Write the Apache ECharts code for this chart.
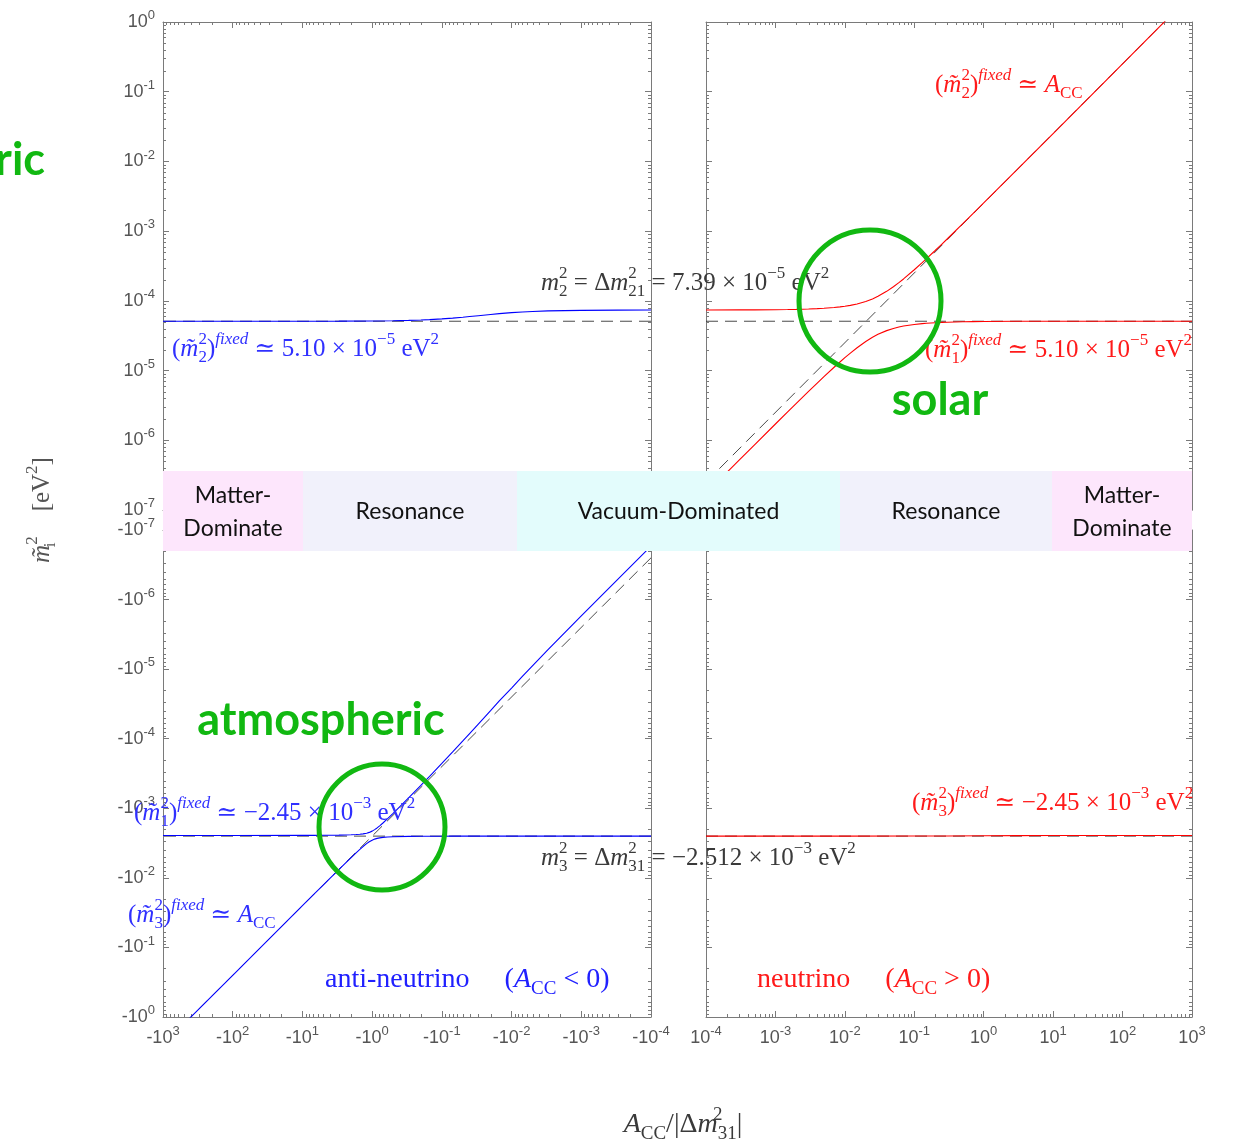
<!DOCTYPE html>
<html><head><meta charset="utf-8">
<script src="https://cdn.jsdelivr.net/npm/echarts@6/dist/echarts.min.js"></script>
<style>html,body{margin:0;padding:0;background:#fff}#c{width:1234px;height:1141px}</style>
</head><body><div id="c"></div><script>
// ---------------- data ----------------
// x = |A_CC|/|dm31^2| ; y = |m~^2| in eV^2
const xAnti  = [1e-4, 3e-4, 1e-3, 3e-3, 5e-3, 7e-3, 0.01, 0.015, 0.02, 0.03, 0.04, 0.05, 0.07, 0.1, 0.15, 0.2, 0.3, 0.5, 1, 3, 10, 100, 1000];
const m2Anti = [7.382e-5, 7.367e-5, 7.314e-5, 7.172e-5, 7.044e-5, 6.926e-5, 6.770e-5, 6.554e-5, 6.381e-5, 6.127e-5, 5.952e-5, 5.825e-5, 5.657e-5, 5.512e-5, 5.386e-5, 5.318e-5, 5.250e-5, 5.191e-5, 5.141e-5, 5.114e-5, 5.104e-5, 5.100e-5, 5.100e-5];

const xAntiNeg  = [1e-4, 3e-4, 1e-3, 3e-3, 7e-3, 0.01, 0.015, 0.02, 0.03, 0.04, 0.05, 0.07, 0.1, 0.15, 0.2, 0.3, 0.5, 0.6, 0.7, 0.78, 0.85, 0.92, 1, 1.1, 1.2, 1.35, 1.5, 1.7, 2, 2.5, 3, 4, 5, 7, 10, 100, 1000];
const m1AntiAbs = [1.703e-7, 5.11e-7, 1.714e-6, 5.24e-6, 1.266e-5, 1.871e-5, 2.867e-5, 3.95e-5, 6.15e-5, 8.435e-5, 1.077e-4, 1.550e-4, 2.270e-4, 3.479e-4, 4.689e-4, 7.100e-4, 1.1829e-3, 1.4107e-3, 1.6273e-3, 1.7891e-3, 1.9164e-3, 2.0275e-3, 2.1295e-3, 2.2205e-3, 2.2796e-3, 2.3321e-3, 2.3621e-3, 2.3857e-3, 2.4053e-3, 2.4216e-3, 2.4301e-3, 2.4387e-3, 2.443e-3, 2.4476e-3, 2.4505e-3, 2.456e-3, 2.457e-3];
const m3AntiAbs = [2.512e-3, 2.512e-3, 2.512e-3, 2.5121e-3, 2.5122e-3, 2.5124e-3, 2.5126e-3, 2.5128e-3, 2.5132e-3, 2.5137e-3, 2.5143e-3, 2.5155e-3, 2.5174e-3, 2.5209e-3, 2.5248e-3, 2.5343e-3, 2.5631e-3, 2.5863e-3, 2.6203e-3, 2.660e-3, 2.7079e-3, 2.7731e-3, 2.8717e-3, 3.0318e-3, 3.224e-3, 3.5482e-3, 3.895e-3, 4.3739e-3, 5.1078e-3, 6.3475e-3, 7.595e-3, 1.00984e-2, 1.2606e-2, 1.76256e-2, 2.5159e-2, 0.25125, 2.5122];

const xNu  = [1e-4, 3e-4, 5e-4, 1e-3, 1.5e-3, 2e-3, 3e-3, 4e-3, 5e-3, 7e-3, 8.5e-3, 0.01, 0.012, 0.015, 0.02, 0.025, 0.03, 0.04, 0.05, 0.06, 0.07, 0.1, 0.13, 0.15, 0.2, 0.25, 0.3, 0.5, 0.7, 1, 3, 10, 100, 1000];
const m2Nu = [7.398e-5, 7.414e-5, 7.430e-5, 7.470e-5, 7.511e-5, 7.553e-5, 7.641e-5, 7.732e-5, 7.828e-5, 8.032e-5, 8.197e-5, 8.372e-5, 8.622e-5, 9.03e-5, 9.80e-5, 1.0669e-4, 1.162e-4, 1.3698e-4, 1.593e-4, 1.825e-4, 2.062e-4, 2.792e-4, 3.533e-4, 4.030e-4, 5.278e-4, 6.5285e-4, 7.781e-4, 1.2798e-3, 1.782e-3, 2.535e-3, 7.559e-3, 2.5143e-2, 0.25122, 2.51202];
const m1Nu = [1.73e-7, 5.18e-7, 8.61e-7, 1.713e-6, 2.557e-6, 3.39e-6, 5.028e-6, 6.626e-6, 8.18e-6, 1.116e-5, 1.328e-5, 1.530e-5, 1.783e-5, 2.128e-5, 2.614e-5, 3.0015e-5, 3.3075e-5, 3.7405e-5, 4.02e-5, 4.21e-5, 4.347e-5, 4.59e-5, 4.71e-5, 4.77e-5, 4.855e-5, 4.905e-5, 4.94e-5, 5.005e-5, 5.03e-5, 5.05e-5, 5.09e-5, 5.10e-5, 5.10e-5, 5.10e-5];

const xNuNeg  = [1e-4, 0.01, 0.1, 0.3, 1, 3, 10, 100, 1000];
const m3NuAbs = [2.512e-3, 2.5112e-3, 2.5068e-3, 2.499e-3, 2.484e-3, 2.470e-3, 2.4605e-3, 2.4573e-3, 2.457e-3];

// reference (dashed) lines
const refX       = [1e-4, 1000];
const solarFixed = [5.10e-5, 5.10e-5];
const atmVacuum  = [2.512e-3, 2.512e-3];
const accLine    = [2.512e-7, 2.512];

// axis ranges / minor ticks
const xRange = [1e-4, 1e3];
const yRange = [1e-7, 1e0];
const minorMantissa = [2, 3, 4, 5, 6, 7, 8, 9];
const xDecades = [1e-4, 1e-3, 1e-2, 1e-1, 1, 10, 100];
const yDecades = [1e-7, 1e-6, 1e-5, 1e-4, 1e-3, 1e-2, 1e-1];

// band regions
const bandLabels = ['Matter-\nDominate', 'Resonance', 'Vacuum-Dominated', 'Resonance', 'Matter-\nDominate'];

// ---------------- helpers ----------------
const pairs = (xs, ys) => xs.map((x, i) => [x, ys[i]]);
const AX = '#7a7a7a';
const SANS = '"Liberation Sans", Arial, sans-serif';
const tickRich = {
  b: {fontFamily: SANS, fontSize: 18, color: '#555', lineHeight: 26},
  s: {fontFamily: SANS, fontSize: 13, color: '#555', lineHeight: 14, verticalAlign: 'top'}
};
const expOf = v => Math.round(Math.log10(v));
const posLab = v => '{b|10}{s|' + expOf(v) + '}';
const negLab = v => '{b|-10}{s|' + expOf(v) + '}';

function mkAxis(grid, pos, range, inverse, labelFn) {
  return {
    type: 'log', logBase: 10, gridIndex: grid, position: pos,
    min: range[0], max: range[1], inverse: inverse, splitNumber: 7,
    splitLine: {show: false},
    axisLine: {show: true, onZero: false, lineStyle: {color: AX, width: 1}},
    axisTick: {show: true, inside: true, length: 6, lineStyle: {color: AX}},
    axisLabel: labelFn ? {show: true, formatter: labelFn, rich: tickRich, margin: 8, showMinLabel: true, showMaxLabel: true, hideOverlap: false}
                       : {show: false}
  };
}

function minorSeries(xi, yi) {
  const data = [];
  xDecades.forEach(d => minorMantissa.forEach(m => data.push([m * d, 1e-3, 0])));
  yDecades.forEach(d => minorMantissa.forEach(m => data.push([1, m * d, 1])));
  return {
    type: 'custom', xAxisIndex: xi, yAxisIndex: yi, silent: true, z: 3, clip: false,
    encode: {x: 0, y: 1}, data: data,
    renderItem(params, api) {
      const cs = params.coordSys;
      const p = api.coord([api.value(0), api.value(1)]);
      const L = 3, st = {stroke: AX, lineWidth: 1};
      if (api.value(2) === 0) {
        const x = Math.round(p[0]) + 0.5;
        return {type: 'group', children: [
          {type: 'line', shape: {x1: x, y1: cs.y, x2: x, y2: cs.y + L}, style: st},
          {type: 'line', shape: {x1: x, y1: cs.y + cs.height, x2: x, y2: cs.y + cs.height - L}, style: st}]};
      }
      const y = Math.round(p[1]) + 0.5;
      return {type: 'group', children: [
        {type: 'line', shape: {x1: cs.x, y1: y, x2: cs.x + L, y2: y}, style: st},
        {type: 'line', shape: {x1: cs.x + cs.width, y1: y, x2: cs.x + cs.width - L, y2: y}, style: st}]};
    }
  };
}

function solid(xi, yi, xs, ys, color) {
  return {type: 'line', xAxisIndex: xi, yAxisIndex: yi, data: pairs(xs, ys), symbol: 'none',
    smooth: false, lineStyle: {color: color, width: 1.1}, z: 10, silent: true};
}
function dashed(xi, yi, xs, ys) {
  return {type: 'line', xAxisIndex: xi, yAxisIndex: yi, data: pairs(xs, ys), symbol: 'none',
    lineStyle: {color: '#2a2a2a', width: 1, type: [12, 7], opacity: 0.85}, z: 4, silent: true};
}

// rich text for LaTeX-like annotations (zrender styles -> fill)
const SERIF = '"Liberation Serif", "DejaVu Serif", serif';
function richFor(color, size) {
  const s = Math.round(size * 0.68), L = size + 10;
  const base = {fontFamily: SERIF, fill: color};
  return {
    n:   Object.assign({}, base, {fontSize: size, lineHeight: L}),
    i:   Object.assign({}, base, {fontSize: size, fontStyle: 'italic', lineHeight: L}),
    sp:  Object.assign({}, base, {fontSize: s, lineHeight: s + 2, verticalAlign: 'top'}),
    sp0: Object.assign({}, base, {fontSize: s, lineHeight: s + 2, verticalAlign: 'top', width: 0}),
    spi: Object.assign({}, base, {fontSize: s, fontStyle: 'italic', lineHeight: s + 2, verticalAlign: 'top'}),
    sb:  Object.assign({}, base, {fontSize: s, lineHeight: s + 2, verticalAlign: 'bottom'}),
    sb0: Object.assign({}, base, {fontSize: s, lineHeight: s + 2, verticalAlign: 'bottom', width: 0})
  };
}
function ann(text, x, y, color, size, align) {
  return {type: 'text', z: 150, silent: true,
    style: {text: text, x: x, y: y, align: align || 'left', verticalAlign: 'middle', rich: richFor(color, size || 25)}};
}
const BLUE_T = '#3030ff', RED_T = '#ff1a1a', GRAY_T = '#3a3a3a', GREEN = '#11b811';
const mt = k => '{n|(}{i|m̃}{sb0|' + k + '}{sp|2}{n|)}{spi|fixed}';

// ---------------- chart ----------------
const chart = echarts.init(document.getElementById('c'), null, {renderer: 'canvas'});
const grids = [
  {left: 163, top: 22, width: 488, height: 488},
  {left: 706, top: 22, width: 486, height: 488},
  {left: 163, top: 530, width: 488, height: 487},
  {left: 706, top: 530, width: 486, height: 487}
];
const xAxes = [
  mkAxis(0, 'bottom', xRange, true, null), mkAxis(0, 'top', xRange, true, null),
  mkAxis(1, 'bottom', xRange, false, null), mkAxis(1, 'top', xRange, false, null),
  mkAxis(2, 'bottom', xRange, true, negLab), mkAxis(2, 'top', xRange, true, null),
  mkAxis(3, 'bottom', xRange, false, posLab), mkAxis(3, 'top', xRange, false, null)
];
const yAxes = [
  mkAxis(0, 'left', yRange, false, posLab), mkAxis(0, 'right', yRange, false, null),
  mkAxis(1, 'left', yRange, false, null), mkAxis(1, 'right', yRange, false, null),
  mkAxis(2, 'left', yRange, true, negLab), mkAxis(2, 'right', yRange, true, null),
  mkAxis(3, 'left', yRange, true, null), mkAxis(3, 'right', yRange, true, null)
];

const series = [
  minorSeries(0, 0), minorSeries(2, 2), minorSeries(4, 4), minorSeries(6, 6),
  dashed(0, 0, refX, solarFixed),
  dashed(2, 2, refX, solarFixed),
  dashed(2, 2, refX, accLine),
  dashed(4, 4, refX, atmVacuum),
  dashed(4, 4, refX, accLine),
  dashed(6, 6, refX, atmVacuum),
  solid(0, 0, xAnti, m2Anti, '#0000ff'),
  solid(2, 2, xNu, m2Nu, '#ff0000'),
  solid(2, 2, xNu, m1Nu, '#ff0000'),
  solid(4, 4, xAntiNeg, m1AntiAbs, '#0000ff'),
  solid(4, 4, xAntiNeg, m3AntiAbs, '#0000ff'),
  solid(6, 6, xNuNeg, m3NuAbs, '#ff0000')
];

// band
const bandX = [163, 303, 517, 840, 1052, 1192];
const bandFill = ['#fde6fc', '#f1f1fb', '#e3fcfc', '#f1f1fb', '#fde6fc'];
const graphics = [];
bandLabels.forEach((t, i) => {
  graphics.push({type: 'rect', z: 100, silent: true,
    shape: {x: bandX[i], y: 471, width: bandX[i + 1] - bandX[i], height: 80}, style: {fill: bandFill[i]}});
  graphics.push({type: 'text', z: 101, silent: true,
    style: {text: t, x: (bandX[i] + bandX[i + 1]) / 2, y: 512, align: 'center', verticalAlign: 'middle',
      font: '23px Lato, "Open Sans", sans-serif', fill: '#111', lineHeight: 33}});
});

graphics.push(
  ann(mt('2') + '{n| ≃ }{i|A}{sb|CC}', 935, 85, RED_T),
  ann('{i|m}{sb0|2}{sp|2}{n| = Δ}{i|m}{sp0|2}{sb|21}{n| = 7.39 × 10}{sp|−5}{n| eV}{sp|2}', 541, 283, GRAY_T),
  ann(mt('2') + '{n| ≃ 5.10 × 10}{sp|−5}{n| eV}{sp|2}', 172, 349, BLUE_T),
  ann(mt('1') + '{n| ≃ 5.10 × 10}{sp|−5}{n| eV}{sp|2}', 925, 350, RED_T),
  ann(mt('1') + '{n| ≃ −2.45 × 10}{sp|−3}{n| eV}{sp|2}', 134, 813, BLUE_T),
  ann(mt('3') + '{n| ≃ }{i|A}{sb|CC}', 128, 915, BLUE_T),
  ann('{i|m}{sb0|3}{sp|2}{n| = Δ}{i|m}{sp0|2}{sb|31}{n| = −2.512 × 10}{sp|−3}{n| eV}{sp|2}', 541, 858, GRAY_T),
  ann(mt('3') + '{n| ≃ −2.45 × 10}{sp|−3}{n| eV}{sp|2}', 912, 803, RED_T),
  ann('{n|anti-neutrino     (}{i|A}{sb|CC}{n| < 0)}', 325, 980, '#2020ff', 28),
  ann('{n|neutrino     (}{i|A}{sb|CC}{n| > 0)}', 757, 980, RED_T, 28),
  ann('{i|A}{sb|CC}{n|/|Δ}{i|m}{sp0|2}{sb|31}{n||}', 683, 1125, GRAY_T, 28, 'center')
);
// y-axis title (rotated)
graphics.push({type: 'text', z: 150, silent: true, x: 42, y: 510, rotation: Math.PI / 2,
  style: {text: '{i|m̃}{sb0|i}{sp|2}{n|    [eV}{sp|2}{n|]}', x: 0, y: 0, align: 'center', verticalAlign: 'middle', rich: richFor('#555', 25)}});

// green highlights
const GFONT = 'bold 45px Lato, "Open Sans", sans-serif';
graphics.push(
  {type: 'circle', z: 200, silent: true, shape: {cx: 870, cy: 301, r: 71}, style: {fill: 'none', stroke: GREEN, lineWidth: 5}},
  {type: 'circle', z: 200, silent: true, shape: {cx: 382, cy: 827, r: 63}, style: {fill: 'none', stroke: GREEN, lineWidth: 5}},
  {type: 'text', z: 200, silent: true, style: {text: 'solar', x: 940, y: 400, align: 'center', verticalAlign: 'middle', font: GFONT, fill: GREEN}},
  {type: 'text', z: 200, silent: true, style: {text: 'atmospheric', x: 321, y: 720, align: 'center', verticalAlign: 'middle', font: GFONT, fill: GREEN}},
  {type: 'text', z: 200, silent: true, style: {text: 'atmospheric', x: 45, y: 160, align: 'right', verticalAlign: 'middle', font: GFONT, fill: GREEN}}
);

chart.setOption({
  animation: false,
  backgroundColor: '#ffffff',
  grid: grids,
  xAxis: xAxes,
  yAxis: yAxes,
  series: series,
  graphic: {elements: graphics}
});
</script></body></html>
